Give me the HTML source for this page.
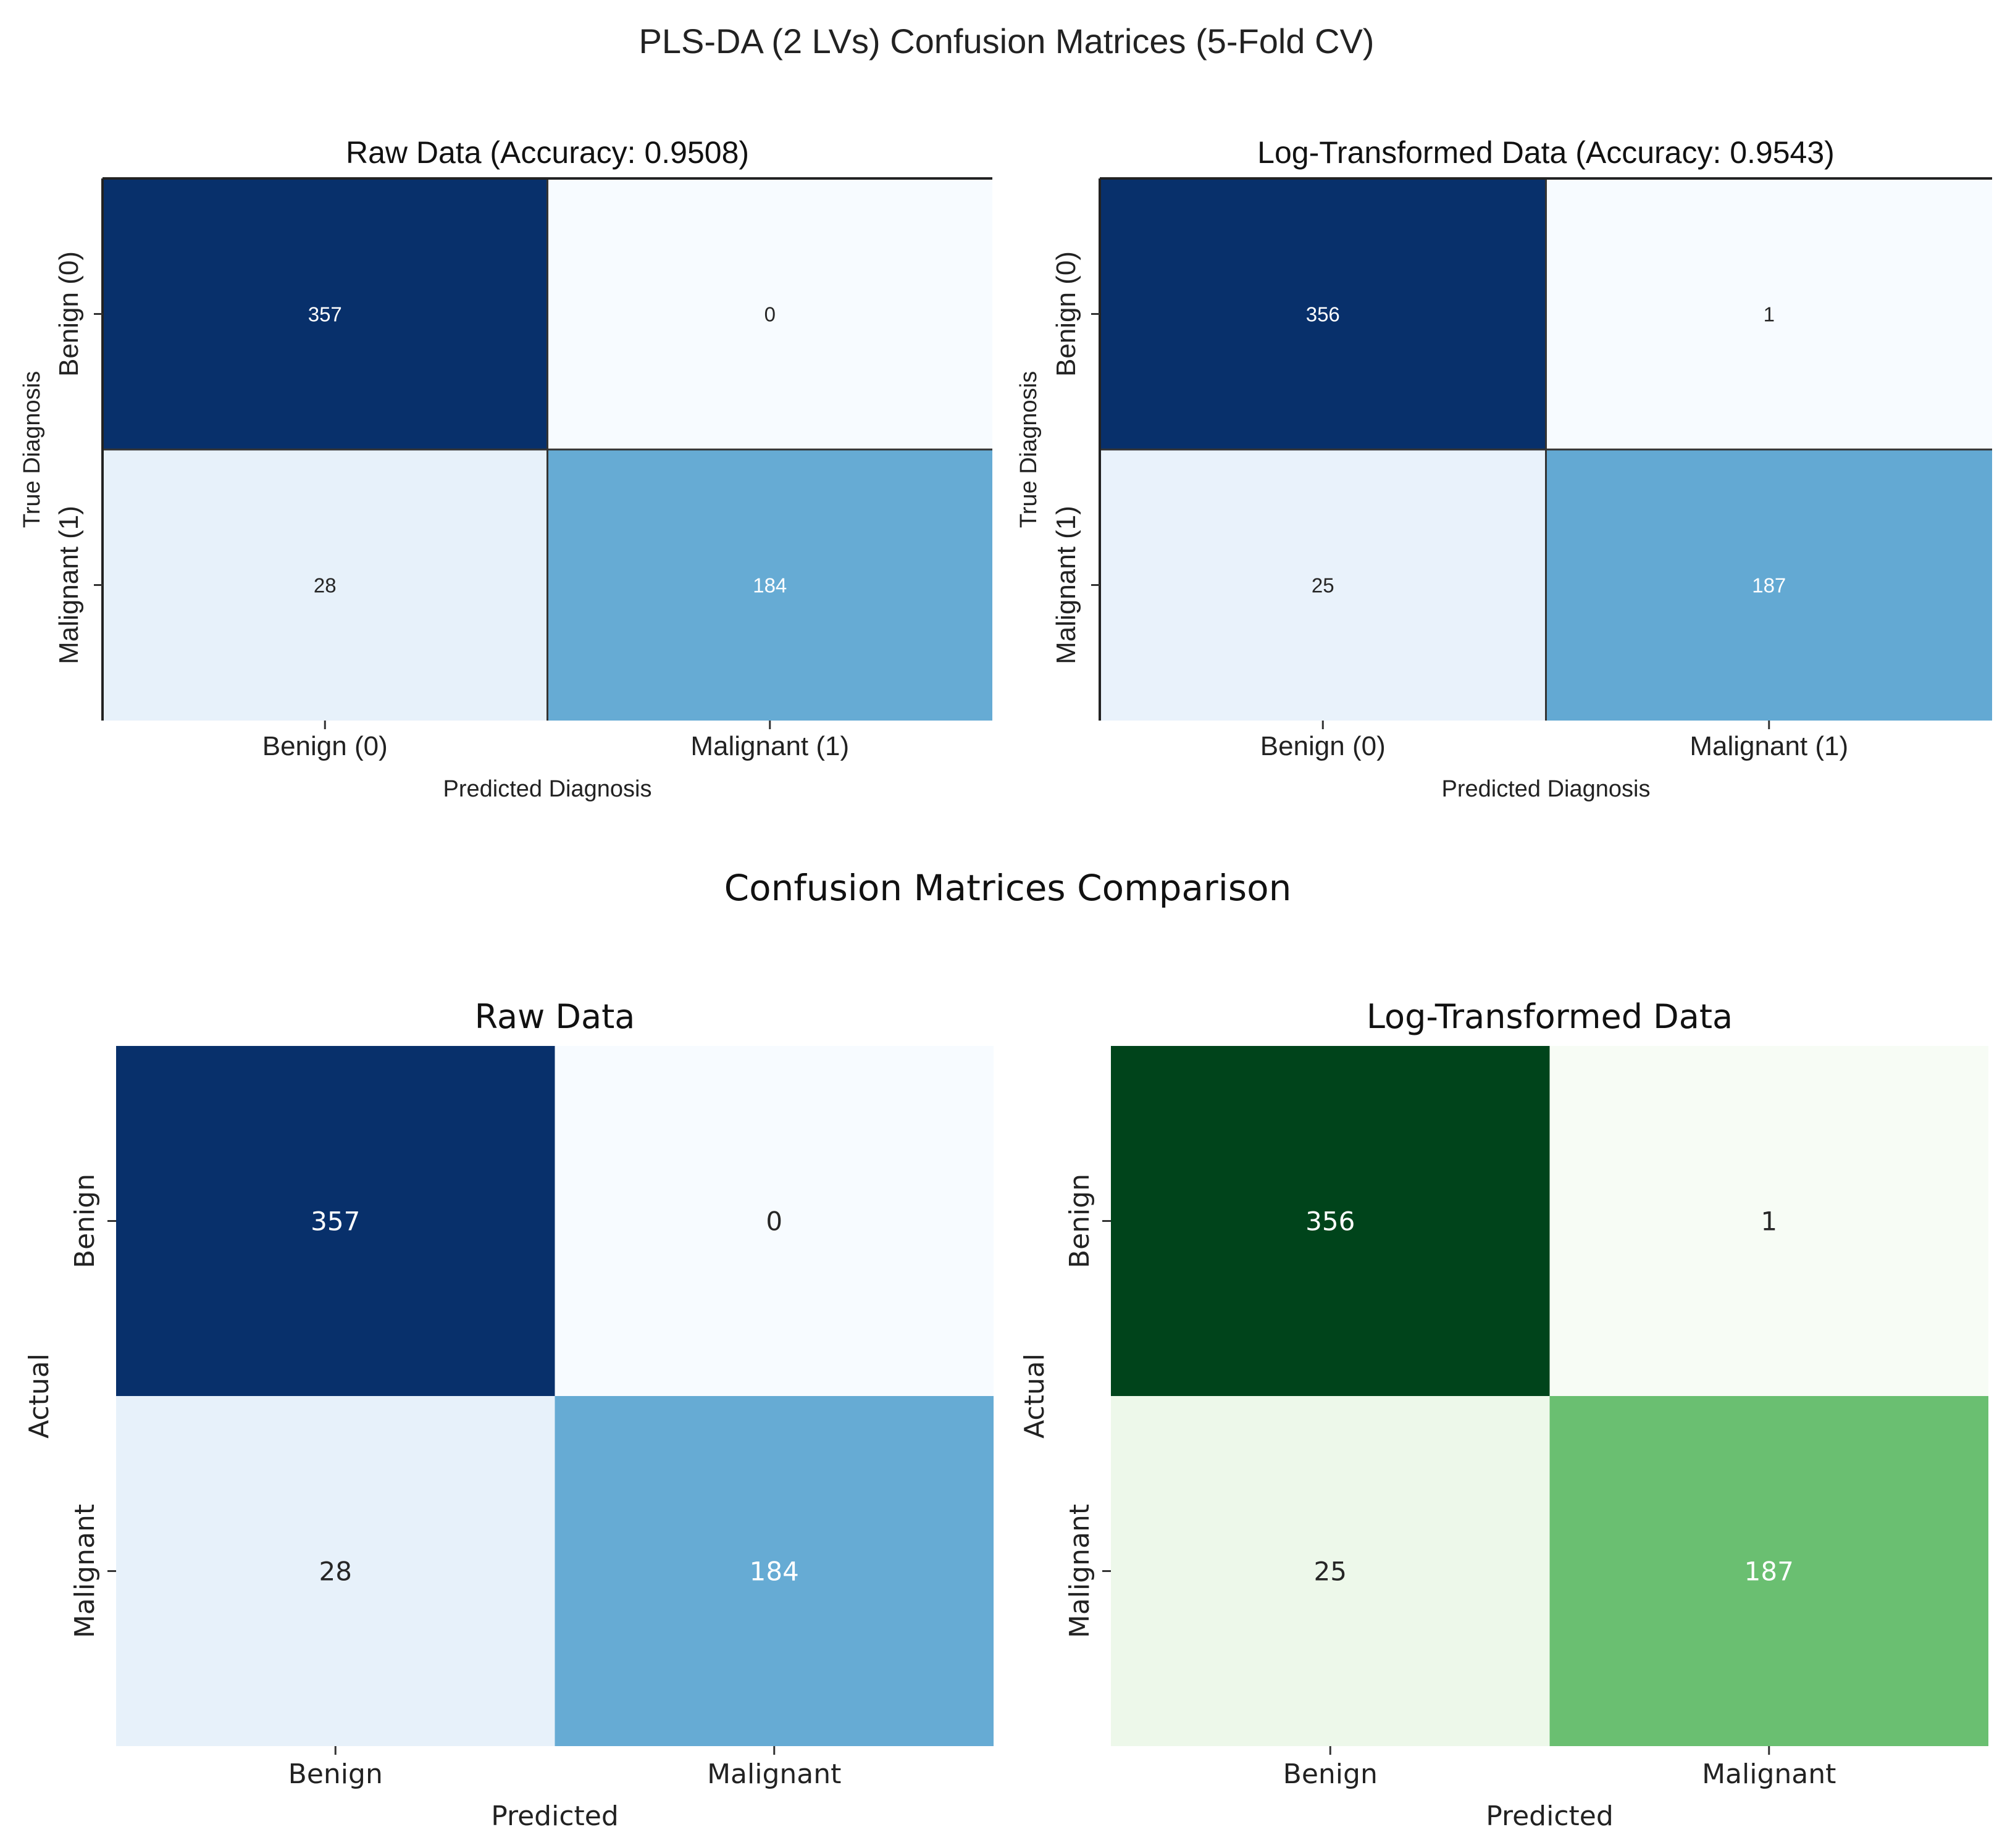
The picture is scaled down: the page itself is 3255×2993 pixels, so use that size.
<!DOCTYPE html>
<html><head><meta charset="utf-8"><style>
html,body{margin:0;padding:0;background:#fff;}
svg{display:block;}
</style></head><body>
<svg id="fig" width="3255" height="2993" viewBox="0 0 3255 2993" xmlns="http://www.w3.org/2000/svg">
<rect width="3255" height="2993" fill="#fff"/>
<text x="1630" y="86" font-size="56" text-anchor="middle" font-family="Liberation Sans, sans-serif" fill="#222">PLS-DA (2 LVs) Confusion Matrices (5-Fold CV)</text>
<text x="1632" y="1458" font-size="58" text-anchor="middle" font-family="DejaVu Sans, sans-serif" fill="#111">Confusion Matrices Comparison</text>
</svg>
<script>
const topClasses = ["Benign (0)", "Malignant (1)"];
const botClasses = ["Benign", "Malignant"];
const rawCounts = [[357, 0], [28, 184]];
const logCounts = [[356, 1], [25, 187]];
const topTitles = ["Raw Data (Accuracy: 0.9508)", "Log-Transformed Data (Accuracy: 0.9543)"];
const botTitles = ["Raw Data", "Log-Transformed Data"];

const NS = "http://www.w3.org/2000/svg";
const svg = document.getElementById("fig");
function mk(tag, attrs, parent, txt){
  const e = document.createElementNS(NS, tag);
  for (const k in attrs) e.setAttribute(k, attrs[k]);
  if (txt !== undefined) e.textContent = txt;
  (parent || svg).appendChild(e);
  return e;
}
function lerp(a,b,t){return a+(b-a)*t;}
function hex2(c){return [parseInt(c.slice(1,3),16),parseInt(c.slice(3,5),16),parseInt(c.slice(5,7),16)];}
function cmap(stops, t){
  t=Math.max(0,Math.min(1,t));
  const n=stops.length-1, i=Math.min(n-1,Math.floor(t*n)), f=t*n-i;
  const a=hex2(stops[i]), b=hex2(stops[i+1]);
  return "rgb("+a.map((v,j)=>Math.round(lerp(v,b[j],f))).join(",")+")";
}
const Blues=["#f7fbff","#deebf7","#c6dbef","#9ecae1","#6baed6","#4292c6","#2171b5","#08519c","#08306b"];
const Greens=["#f7fcf5","#e5f5e0","#c7e9c0","#a1d99b","#74c476","#41ab5d","#238b45","#006d2c","#00441b"];

function drawMatrix(o){
  const g = mk("g", {}, svg);
  
  
  const n = o.classes.length;
  const cw = (o.x1-o.x0)/n, ch = (o.y1-o.y0)/n;
  const xC = i => o.x0 + cw*(i+0.5);
  const yC = i => o.y0 + ch*(i+0.5);
  let mx = -Infinity, mn = Infinity;
  o.data.forEach(r=>r.forEach(v=>{mx=Math.max(mx,v);mn=Math.min(mn,v);}));
  for (let r=0;r<n;r++) for (let c=0;c<n;c++){
    const v=o.data[r][c], t=(v-mn)/(mx-mn);
    const rect = mk("rect",{x:o.x0+cw*c,y:o.y0+ch*r,width:cw,height:ch,fill:cmap(o.cmap,t)},g);
    
    
    const tx = mk("text",{x:xC(c),y:yC(r)+o.annSize*0.36,"text-anchor":"middle","font-size":o.annSize,
      fill:t>0.5?"#fff":"#262626","font-family":o.font},g,String(v));
    
    
  }
  if (o.border){
    for (let i=1;i<n;i++){
      mk("line",{x1:o.x0+cw*i,y1:o.y0,x2:o.x0+cw*i,y2:o.y1,stroke:"#333","stroke-width":3},g);
      mk("line",{x1:o.x0,y1:o.y0+ch*i,x2:o.x1,y2:o.y0+ch*i,stroke:"#333","stroke-width":3},g);
    }
    const sp1 = mk("line",{x1:o.x0,y1:o.y0,x2:o.x1,y2:o.y0,stroke:"#222","stroke-width":4},g);
    
    
    const sp2 = mk("line",{x1:o.x0,y1:o.y0,x2:o.x0,y2:o.y1,stroke:"#222","stroke-width":4},g);
    
    
  }
  for (let i=0;i<n;i++){
    mk("line",{x1:xC(i),y1:o.y1,x2:xC(i),y2:o.y1+14,stroke:"#333","stroke-width":3},g);
    mk("line",{x1:o.x0-14,y1:yC(i),x2:o.x0,y2:yC(i),stroke:"#333","stroke-width":3},g);
    const xl = mk("text",{x:xC(i),y:o.y1+o.tickGap,"text-anchor":"middle","font-size":o.tickSize,fill:"#222","font-family":o.font},g,o.classes[i]);
    
    
    const yx = o.x0-o.ytickGap, yy=yC(i);
    const yl = mk("text",{x:yx,y:yy,"text-anchor":"middle","font-size":o.tickSize,fill:"#222","font-family":o.font,
      transform:"rotate(-90 "+yx+" "+yy+")"},g,o.classes[i]);
    
    
  }
  const ti = mk("text",{x:(o.x0+o.x1)/2,y:o.titleY,"text-anchor":"middle","font-size":o.titleSize,fill:"#111","font-family":o.font},g,o.title);
  
  
  const xa = mk("text",{x:(o.x0+o.x1)/2,y:o.xlabY,"text-anchor":"middle","font-size":o.labSize,fill:"#222","font-family":o.font},g,o.xlab);
  
  
  const ay=(o.y0+o.y1)/2;
  const ya = mk("text",{x:o.ylabX,y:ay,"text-anchor":"middle","font-size":o.labSize,fill:"#222","font-family":o.font,
    transform:"rotate(-90 "+o.ylabX+" "+ay+")"},g,o.ylab);
  
  
}
const topFont="Liberation Sans, sans-serif", botFont="DejaVu Sans, sans-serif";
const topCommon={y0:289,y1:1167,classes:topClasses,border:true,annSize:33,tickSize:44,tickGap:56,ytickGap:40,
  titleY:264,titleSize:50,xlab:"Predicted Diagnosis",ylab:"True Diagnosis",xlabY:1290,labSize:38,font:topFont};
drawMatrix(Object.assign({},topCommon,{name:"raw-cv-matrix",x0:166,x1:1607,data:rawCounts,cmap:Blues,title:topTitles[0],ylabX:64}));
drawMatrix(Object.assign({},topCommon,{name:"log-cv-matrix",x0:1781,x1:3226,data:logCounts,cmap:Blues,title:topTitles[1],ylabX:1678}));
const botCommon={y0:1694,y1:2828,classes:botClasses,border:false,annSize:42,tickSize:44,tickGap:60,ytickGap:36,
  titleY:1665,titleSize:54,xlab:"Predicted",ylab:"Actual",xlabY:2956,labSize:44,font:botFont};
drawMatrix(Object.assign({},botCommon,{name:"raw-comparison-matrix",x0:188,x1:1609,data:rawCounts,cmap:Blues,title:botTitles[0],ylabX:78}));
drawMatrix(Object.assign({},botCommon,{name:"log-comparison-matrix",x0:1799,x1:3220,data:logCounts,cmap:Greens,title:botTitles[1],ylabX:1690}));
</script>
</body></html>
